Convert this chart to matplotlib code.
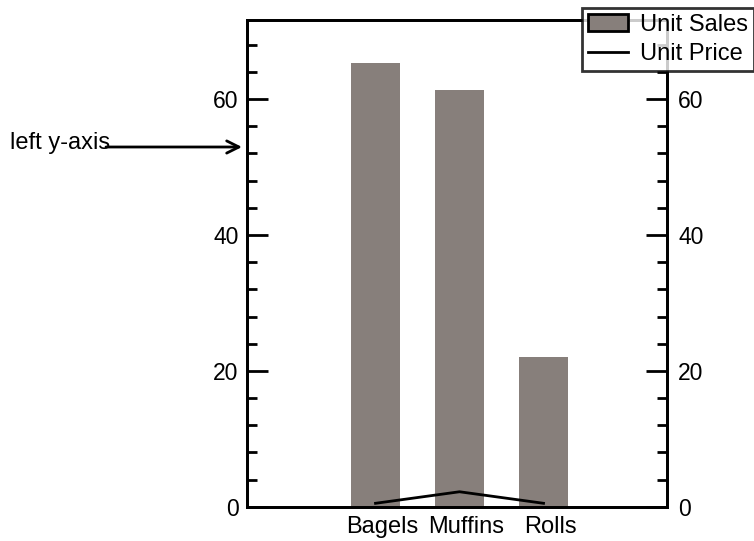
import numpy as np
import matplotlib
matplotlib.use('Agg')
import matplotlib.pyplot as plt
import matplotlib.transforms as mtrans
from matplotlib.ticker import MultipleLocator

plt.rcParams['font.family'] = ['Liberation Sans', 'DejaVu Sans']

categories = ['Bagels', 'Muffins', 'Rolls']
unit_sales = [65.3, 61.4, 22.0]
unit_price = [0.5, 2.2, 0.5]

bar_color = '#877f7b'
fs = 17

fig = plt.figure(figsize=(7.54, 5.41), dpi=100)
ax = fig.add_axes([0.3276, 0.0634, 0.557, 0.899])

x = np.arange(len(categories))
bars = ax.bar(x, unit_sales, width=0.58, color=bar_color, label='Unit Sales')
line, = ax.plot(x, unit_price, color='black', lw=2, label='Unit Price')

ax.set_xlim(-1.53, 3.47)
ax.set_ylim(0, 71.6)
ax.set_xticks(x)
ax.set_xticklabels(categories, fontsize=fs)
ax.tick_params(axis='x', length=0, pad=7)
# labels sit a little right of the bars in the original
shift = mtrans.ScaledTranslation(7 / 100, 0, fig.dpi_scale_trans)
for lbl in ax.get_xticklabels():
    lbl.set_transform(lbl.get_transform() + shift)

ax.yaxis.set_major_locator(MultipleLocator(20))
ax.yaxis.set_minor_locator(MultipleLocator(4))
ax.tick_params(axis='y', which='major', direction='in', length=15, width=2,
               labelsize=fs - 0.5, pad=6)
ax.tick_params(axis='y', which='minor', direction='in', length=7.5, width=2)
for s in ax.spines.values():
    s.set_linewidth(2)

# right axis, same scale
ax2 = ax.twinx()
ax2.set_ylim(ax.get_ylim())
ax2.yaxis.set_major_locator(MultipleLocator(20))
ax2.yaxis.set_minor_locator(MultipleLocator(4))
ax2.tick_params(axis='y', which='major', direction='in', length=15, width=2,
                labelsize=fs - 0.5, pad=8)
ax2.tick_params(axis='y', which='minor', direction='in', length=7.5, width=2)
for s in ax2.spines.values():
    s.set_linewidth(2)

# annotation pointing at the left axis
fig.text(10 / 754, 1 - 143 / 541, 'left y-axis', fontsize=fs,
         ha='left', va='center')
ax.annotate('', xy=(242, 541 - 147), xycoords='figure pixels',
            xytext=(106, 541 - 147), textcoords='figure pixels',
            arrowprops=dict(arrowstyle='->', lw=2, color='black',
                            mutation_scale=22, shrinkA=0, shrinkB=0),
            annotation_clip=False)

leg = fig.legend([bars, line], ['Unit Sales', 'Unit Price'],
                 loc='upper left', bbox_to_anchor=(582 / 754, 1 - 8 / 541),
                 fontsize=fs, frameon=True, fancybox=False,
                 borderpad=0.25, handlelength=1.7, handletextpad=0.5,
                 labelspacing=0.3, borderaxespad=0)
leg.get_frame().set_edgecolor('black')
leg.get_frame().set_linewidth(2)
leg.legend_handles[0].set_edgecolor('black')
leg.legend_handles[0].set_linewidth(2)

fig.savefig('out.png', dpi=100)
